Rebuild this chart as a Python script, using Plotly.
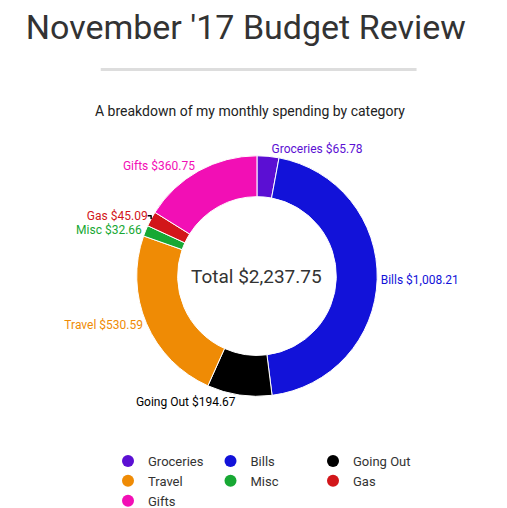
import plotly.graph_objects as go

categories = ["Groceries", "Bills", "Going Out", "Travel", "Misc", "Gas", "Gifts"]
values = [65.78, 1008.21, 194.67, 530.59, 32.66, 45.09, 360.75]
colors = ["#5b0fd3", "#1212d9", "#000000", "#ef8b05", "#17a834", "#d2161a", "#f20fb5"]
total = sum(values)

fig = go.Figure()
fig.add_trace(go.Pie(
    labels=categories, values=values, hole=0.66, sort=False, direction="clockwise", rotation=0,
    marker=dict(colors=colors, line=dict(color="white", width=1)),
    textposition="outside", texttemplate="%{label} $%{value:,.2f}",
    outsidetextfont=dict(color=colors, size=12, family="Roboto"),
    showlegend=False, hoverinfo="label+value",
    domain=dict(x=[0.05, 0.92], y=[0.225, 0.705]),
))
for c, col in zip(categories, colors):
    fig.add_trace(go.Scatter(x=[None], y=[None], mode="markers", name=c,
                             marker=dict(symbol="circle", size=18, color=col)))

fig.update_layout(
    width=507, height=508, paper_bgcolor="white", plot_bgcolor="white",
    margin=dict(l=0, r=0, t=0, b=0),
    xaxis=dict(visible=False), yaxis=dict(visible=False),
    title=dict(text="November '17 Budget Review", x=0.035, xanchor="left", y=0.985, yanchor="top",
               font=dict(family="Roboto", size=34, color="#333")),
    legend=dict(orientation="h", x=0.5, xanchor="center", y=0.125, yanchor="top",
                font=dict(family="Roboto", size=13, color="#333"), itemsizing="constant"),
    annotations=[
        dict(text="A breakdown of my monthly spending by category", x=0.465, y=0.815,
             xref="paper", yref="paper", showarrow=False,
             font=dict(family="Roboto", size=14, color="#222")),
        dict(text=f"Total ${total:,.2f}", x=0.485, y=0.465, xref="paper", yref="paper",
             showarrow=False, font=dict(family="Roboto", size=19, color="#333")),
    ],
    shapes=[dict(type="line", xref="paper", yref="paper", x0=0.02, x1=0.96, y0=0.877, y1=0.877,
                 line=dict(color="#ddd", width=3))],
)
fig.write_html("out.html")
